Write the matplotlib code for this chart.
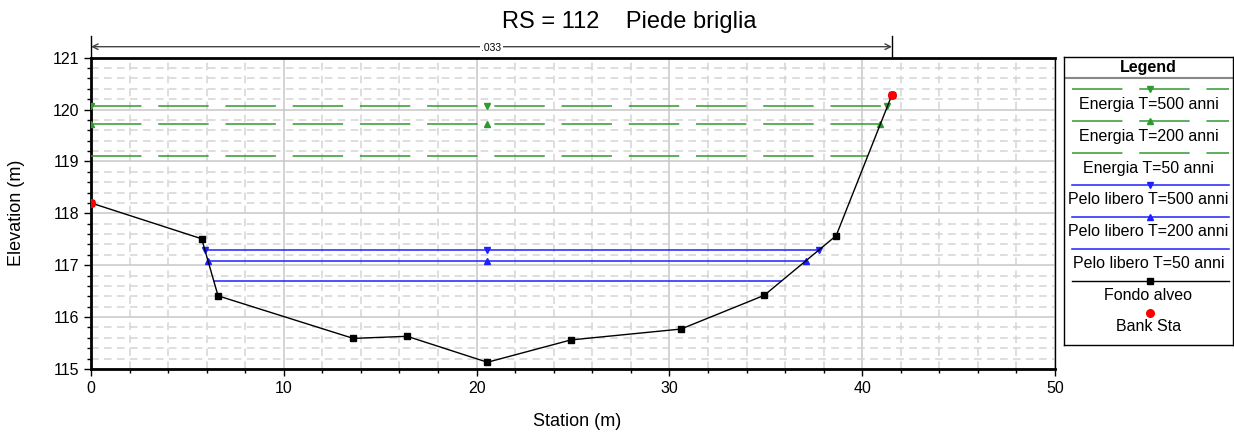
import numpy as np
from matplotlib import pyplot as plt
from matplotlib.ticker import MultipleLocator

plt.rcParams['font.family'] = ['Liberation Sans', 'DejaVu Sans']

# ground profile (station m, elevation m)
station = [0.0, 5.74, 6.59, 13.6, 16.4, 20.56, 24.89, 30.6, 34.92, 38.65, 41.55]
elevation = [118.2, 117.51, 116.41, 115.59, 115.63, 115.13, 115.56, 115.77, 116.42, 117.57, 120.29]
bank_sta = [0.0, 41.55]
bank_elev = [118.2, 120.29]
manning_n = ".033"

# water levels
energy_names = ["Energia T=500 anni", "Energia T=200 anni", "Energia T=50 anni"]
energy_levels = [120.06, 119.72, 119.10]
ws_names = ["Pelo libero T=500 anni", "Pelo libero T=200 anni", "Pelo libero T=50 anni"]
ws_levels = [117.30, 117.08, 116.69]
level_markers = ["v", "^", None]

green = "#2f9a2f"
blue = "#1f1fff"
dash = (0, (33, 11))

st = np.array(station)
el = np.array(elevation)
i_min = int(np.argmin(el))


def extent(level):
    # where the level meets the ground on both sides of the thalweg
    xl = st[0]
    for i in range(i_min, 0, -1):
        if el[i - 1] >= level:
            xl = st[i] + (level - el[i]) / (el[i - 1] - el[i]) * (st[i - 1] - st[i])
            break
    xr = st[-1]
    for i in range(i_min, len(st) - 1):
        if el[i + 1] >= level:
            xr = st[i] + (level - el[i]) / (el[i + 1] - el[i]) * (st[i + 1] - st[i])
            break
    return xl, xr


fig = plt.figure(figsize=(12.34, 4.37), dpi=100)
ax = fig.add_axes([91 / 1234, 1 - 369 / 437, (1055 - 91) / 1234, (369 - 57.7) / 437])

for level, mk in zip(energy_levels, level_markers):
    xl, xr = extent(level)
    ax.plot([xl, xr], [level, level], color=green, lw=1.1, ls=dash, zorder=3)
    if mk:
        ax.plot([xl, st[i_min], xr], [level] * 3, ls="none", marker=mk, ms=4,
                color=green, zorder=4)

for level, mk in zip(ws_levels, level_markers):
    xl, xr = extent(level)
    ax.plot([xl, xr], [level, level], color=blue, lw=1.1, zorder=3)
    if mk:
        ax.plot([xl, st[i_min], xr], [level] * 3, ls="none", marker=mk, ms=4,
                color=blue, zorder=4)

ax.plot(station, elevation, color="black", lw=1, marker="s", ms=4.5, zorder=5)
ax.plot(bank_sta, bank_elev, ls="none", marker="o", ms=5.5, color="#ff0000", zorder=6)

ax.set_xlim(0, 50)
ax.set_ylim(115, 121)
ax.xaxis.set_major_locator(MultipleLocator(10))
ax.xaxis.set_minor_locator(MultipleLocator(2))
ax.yaxis.set_major_locator(MultipleLocator(1))
ax.yaxis.set_minor_locator(MultipleLocator(0.2))
ax.grid(which="major", color="#c8c8c8", lw=1.1, ls="-", zorder=0)
ax.grid(which="minor", color="#d4d4d4", lw=1.1, ls=(0, (5, 3.5)), zorder=0)
ax.set_axisbelow(True)
ax.tick_params(which="major", direction="out", length=5, width=1, labelsize=11.5)
ax.tick_params(which="minor", direction="out", length=3, width=1)
for side in ["left", "bottom", "top"]:
    ax.spines[side].set_linewidth(2)
ax.spines["right"].set_linewidth(1)

fig.text(577 / 1234, 1 - 421 / 437, "Station (m)", ha="center", va="center", fontsize=13)
fig.text(17 / 1234, 1 - 213 / 437, "Elevation (m)", ha="center", va="center",
         rotation=90, fontsize=13)
fig.text(629 / 1234, 1 - 28.3 / 437, "RS = 112    Piede briglia", ha="center",
         va="baseline", fontsize=17)

# manning's n bar above the plot
ytop = 1 + 11 / 311.3
trans = ax.get_xaxis_transform()
ax.annotate("", xy=(bank_sta[0], ytop), xytext=(bank_sta[1], ytop), xycoords=trans,
            textcoords=trans, annotation_clip=False,
            arrowprops=dict(arrowstyle="<->", color="#444444", lw=1, shrinkA=0, shrinkB=0))
for xb in bank_sta:
    ax.plot([xb, xb], [1, 1 + 22 / 311.3], transform=trans, color="black", lw=1,
            clip_on=False)
ax.text(np.mean(bank_sta), ytop - 0.005, manning_n, transform=trans, ha="center",
        va="center", fontsize=7.5, bbox=dict(facecolor="white", edgecolor="none", pad=1))

# legend box
lg = fig.add_axes([1064 / 1234, 1 - 344.7 / 437, (1233 - 1064) / 1234, (344.7 - 57.3) / 437])
lg.set_xlim(0, 169)
lg.set_ylim(287.4, 0)
lg.set_xticks([])
lg.set_yticks([])
for s in lg.spines.values():
    s.set_linewidth(1)
lg.text(84.5, 10, "Legend", ha="center", va="center", fontsize=11.5, fontweight="bold")
lg.plot([0, 169], [21, 21], color="#888888", lw=1.5)

names = energy_names + ws_names + ["Fondo alveo", "Bank Sta"]
line_y = [31.7, 63.7, 96, 127.7, 159.4, 191.7, 223.4, 255.4]
text_y = [46.7, 78.7, 110.7, 142, 174.4, 206, 238.4, 269.4]
for k, name in enumerate(names):
    y = line_y[k]
    if k < 3:
        lg.plot([8, 165], [y, y], color=green, lw=1.1, ls=dash)
        if level_markers[k]:
            lg.plot([85.5], [y], marker=level_markers[k], ms=4, color=green)
    elif k < 6:
        lg.plot([8, 165], [y, y], color=blue, lw=1.1)
        if level_markers[k - 3]:
            lg.plot([85.5], [y], marker=level_markers[k - 3], ms=4, color=blue)
    elif k == 6:
        lg.plot([8, 165], [y, y], color="black", lw=1)
        lg.plot([85.5], [y], marker="s", ms=4.5, color="black")
    else:
        lg.plot([85.5], [y], marker="o", ms=5.5, color="#ff0000")
    lg.text(84.5, text_y[k], name, ha="center", va="center", fontsize=11.5)

fig.savefig("out.png", dpi=100)
